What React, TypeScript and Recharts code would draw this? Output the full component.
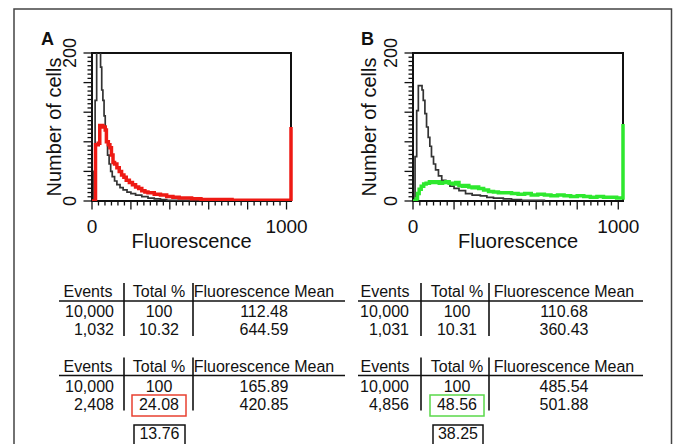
import React from "react";
import { LineChart, Line, XAxis, YAxis, ReferenceArea } from "recharts";

// Histograms: channel (0-1023) where a step starts, and cell count from there on
const controlAChannels = [0, 10, 16, 24, 44, 50, 56, 62, 68, 74, 80, 88, 96, 104, 116, 128, 144, 160, 180, 200, 224, 256, 288, 320, 352, 384, 448, 512, 640];
const controlACounts = [0, 40, 136, 230, 181, 150, 136, 115, 96, 80, 62, 50, 40, 33, 27, 22, 18, 15, 12, 10, 8, 6, 4, 3, 2, 1, 1, 0, 0];
const stainedAChannels = [0, 18, 32, 40, 56, 68, 74, 84, 92, 100, 108, 116, 128, 140, 152, 164, 176, 192, 208, 224, 240, 256, 272, 288, 320, 352, 384, 416, 448, 480, 512, 560, 640, 720, 800, 880, 960, 1020, 1023];
const stainedACounts = [0, 76, 78, 102, 100, 96, 80, 76, 72, 62, 52, 50, 45, 40, 35, 32, 28, 25, 22, 19, 17, 14, 12, 11, 9, 8, 6, 5, 4, 4, 3, 2, 2, 1, 1, 1, 1, 1, 100];

const controlBChannels = [0, 10, 18, 26, 44, 50, 58, 66, 74, 82, 90, 100, 110, 124, 140, 160, 180, 200, 224, 256, 288, 328, 360, 392, 440, 480, 528, 640];
const controlBCounts = [0, 60, 122, 156, 150, 136, 118, 100, 86, 74, 60, 50, 42, 34, 28, 24, 20, 17, 14, 10, 8, 7, 5, 4, 3, 2, 1, 0];
const stainedBChannels = [0, 16, 22, 30, 40, 52, 64, 80, 96, 112, 128, 144, 160, 176, 192, 208, 224, 240, 256, 272, 288, 304, 320, 344, 368, 392, 416, 448, 480, 512, 544, 576, 608, 640, 672, 704, 736, 768, 800, 832, 864, 896, 928, 960, 992, 1020, 1023];
const stainedBCounts = [0, 3, 10, 16, 20, 23, 24, 26, 25, 26, 24, 25, 26, 24, 23, 25, 21, 20, 21, 19, 18, 19, 17, 15, 13, 12, 11, 11, 10, 9, 10, 8, 9, 8, 7, 8, 7, 6, 7, 6, 5, 6, 5, 5, 4, 4, 104];

const xTitle = "Fluorescence";
const yTitle = "Number of cells";
const xTickLabels = [0, 1000];
const yTickLabels = [0, 200];
// minor ticks: 6 per 200 channels on x, 7 per 40 cells on y
const xTicks = Array.from({ length: 31 }, (_, i) => (i * 200) / 6);
const yTicks = Array.from({ length: 36 }, (_, i) => (i * 40) / 7);

const tableHeader = ["Events", "Total %", "Fluorescence Mean"];
const tableA1 = [["10,000", "100", "112.48"], ["1,032", "10.32", "644.59"]];
const tableA2 = [["10,000", "100", "165.89"], ["2,408", "24.08", "420.85"]];
const tableB1 = [["10,000", "100", "110.68"], ["1,031", "10.31", "360.43"]];
const tableB2 = [["10,000", "100", "485.54"], ["4,856", "48.56", "501.88"]];
const differenceA = "13.76";
const differenceB = "38.25";

const FONT = "'Liberation Sans', Arial, sans-serif";
const X_MAX = 1023;
const Y_MAX = 200;
const CHART_TOP = 20;
const MARGIN_TOP = 33;
const PLOT_H = 148;
const X_AXIS_H = 50;

function toPoints(ch: number[], v: number[]) {
  return ch.map((c, i) => ({ ch: c, v: v[i] }));
}

const isMajor = (v: number, step: number) => Math.abs(v / step - Math.round(v / step)) < 1e-6;

const labelOnly = (list: number[]) => (v: number) => {
  const hit = list.find((l) => Math.abs(l - v) < 1e-6);
  return hit === undefined ? "" : String(hit);
};

interface HistProps {
  left: number;
  yAxisWidth: number;
  plotWidth: number;
  control: { ch: number; v: number }[];
  stained: { ch: number; v: number }[];
  color: string;
}

function Histogram({ left, yAxisWidth, plotWidth, control, stained, color }: HistProps) {
  return (
    <div style={{ position: "absolute", left, top: CHART_TOP }}>
      <LineChart
        width={yAxisWidth + plotWidth + 20}
        height={MARGIN_TOP + PLOT_H + X_AXIS_H + 10}
        margin={{ top: MARGIN_TOP, right: 20, bottom: 10, left: 0 }}
      >
        <XAxis
          type="number"
          dataKey="ch"
          domain={[0, X_MAX]}
          ticks={xTicks}
          interval={0}
          axisLine={false}
          tickLine={false}
          tickSize={5}
          tickMargin={14}
          tickFormatter={labelOnly(xTickLabels)}
          tick={{ fontSize: 19, fill: "#111", fontFamily: FONT }}
          height={X_AXIS_H}
        />
        <YAxis
          type="number"
          dataKey="v"
          domain={[0, Y_MAX]}
          allowDataOverflow
          ticks={yTicks}
          interval={0}
          axisLine={false}
          tickLine={false}
          tickSize={5}
          tickMargin={17}
          tickFormatter={labelOnly(yTickLabels)}
          tick={{ fontSize: 18, fill: "#111", fontFamily: FONT, angle: -90, textAnchor: "middle" }}
          width={yAxisWidth}
        />
        <ReferenceArea x1={0} x2={X_MAX} y1={0} y2={Y_MAX} fill="none" stroke="#111" strokeWidth={2} ifOverflow="visible" />
        <Line
          data={control}
          dataKey="v"
          type="stepAfter"
          stroke="#333"
          strokeWidth={1.7}
          dot={false}
          isAnimationActive={false}
        />
        <Line
          data={stained}
          dataKey="v"
          type="stepAfter"
          stroke={color}
          strokeWidth={3.5}
          dot={false}
          isAnimationActive={false}
        />
      </LineChart>
    </div>
  );
}

// tick combs along the frame, placed from the same plot geometry the charts use
function TickMarks({ plotLeft, plotWidth }: { plotLeft: number; plotWidth: number }) {
  const top = CHART_TOP + MARGIN_TOP;
  const bottom = top + PLOT_H;
  return (
    <g stroke="#111" strokeWidth={1.3}>
      {xTicks.map((t) => {
        const px = plotLeft + (t / X_MAX) * plotWidth;
        return <line key={`x${t}`} x1={px} x2={px} y1={bottom} y2={bottom + (isMajor(t, 200) ? 8.5 : 4.5)} />;
      })}
      {yTicks.map((t) => {
        const py = bottom - (t / Y_MAX) * PLOT_H;
        return <line key={`y${t}`} x1={plotLeft} x2={plotLeft - (isMajor(t, 40) ? 8.5 : 4.5)} y1={py} y2={py} />;
      })}
    </g>
  );
}

interface TableGeom {
  eventsHeader: number;
  eventsRight: number;
  pct: number;
  mean: number;
  sep1: number;
  sep2: number;
  ruleX1: number;
  ruleX2: number;
}

function StatsTable({ g, rows, top, box }: { g: TableGeom; rows: string[][]; top: number; box?: string }) {
  // top = header baseline
  const txt = { fontSize: 16, fontFamily: FONT, fill: "#111" };
  return (
    <g>
      <text x={g.eventsHeader} y={top} textAnchor="middle" {...txt}>{tableHeader[0]}</text>
      <text x={g.pct} y={top} textAnchor="middle" {...txt}>{tableHeader[1]}</text>
      <text x={g.mean} y={top} textAnchor="middle" {...txt}>{tableHeader[2]}</text>
      <line x1={g.ruleX1} x2={g.ruleX2} y1={top + 4} y2={top + 4} stroke="#111" strokeWidth={1.6} />
      <line x1={g.sep1} x2={g.sep1} y1={top - 14} y2={top + 39} stroke="#111" strokeWidth={1.6} />
      <line x1={g.sep2} x2={g.sep2} y1={top - 14} y2={top + 39} stroke="#111" strokeWidth={1.6} />
      {rows.map((r, i) => (
        <g key={i}>
          <text x={g.eventsRight} y={top + 20 + i * 18} textAnchor="end" {...txt}>{r[0]}</text>
          <text x={g.pct} y={top + 20 + i * 18} textAnchor="middle" {...txt}>{r[1]}</text>
          <text x={g.mean} y={top + 20 + i * 18} textAnchor="middle" {...txt}>{r[2]}</text>
        </g>
      ))}
      {box && <rect x={g.pct - 27} y={top + 23.5} width={54} height={21} fill="none" stroke={box} strokeWidth={1.5} />}
    </g>
  );
}

const geomA: TableGeom = { eventsHeader: 88, eventsRight: 114, pct: 159, mean: 264, sep1: 124, sep2: 193, ruleX1: 59, ruleX2: 345 };
const geomB: TableGeom = { eventsHeader: 385, eventsRight: 409, pct: 457, mean: 564, sep1: 421, sep2: 489, ruleX1: 358, ruleX2: 643 };

function AxisTitles({ cx, cy, xc }: { cx: number; cy: number; xc: number }) {
  return (
    <g fontFamily={FONT} fontSize={20} fill="#111">
      <text x={xc} y={248} textAnchor="middle">{xTitle}</text>
      <text x={cx} y={cy} transform={`rotate(-90, ${cx}, ${cy})`} textAnchor="middle" dominantBaseline="central">
        {yTitle}
      </text>
    </g>
  );
}

export default function App() {
  return (
    <div style={{ position: "absolute", left: 0, top: 0, width: 673, height: 444, background: "#fff" }}>
      <svg width={673} height={444} style={{ position: "absolute", left: 0, top: 0 }}>
        <rect x={14} y={9} width={657.5} height={480} fill="none" stroke="#444" strokeWidth={1.5} />
        <text x={41} y={45} fontSize={18} fontWeight="bold" fontFamily={FONT} fill="#111">A</text>
        <text x={361} y={45} fontSize={18} fontWeight="bold" fontFamily={FONT} fill="#111">B</text>
        <AxisTitles cx={54} cy={127} xc={191.5} />
        <AxisTitles cx={369} cy={127} xc={518} />

        <StatsTable g={geomA} rows={tableA1} top={297} />
        <StatsTable g={geomA} rows={tableA2} top={371.5} box="#e84030" />
        <rect x={134} y={425} width={51} height={30} fill="none" stroke="#111" strokeWidth={1.5} />
        <text x={159.5} y={438.5} textAnchor="middle" fontSize={16} fontFamily={FONT} fill="#111">{differenceA}</text>

        <StatsTable g={geomB} rows={tableB1} top={297} />
        <StatsTable g={geomB} rows={tableB2} top={371.5} box="#5ad84a" />
        <rect x={433} y={425} width={50} height={30} fill="none" stroke="#111" strokeWidth={1.5} />
        <text x={458} y={438.5} textAnchor="middle" fontSize={16} fontFamily={FONT} fill="#111">{differenceB}</text>
      </svg>
      <Histogram
        left={16}
        yAxisWidth={76}
        plotWidth={199}
        control={toPoints(controlAChannels, controlACounts)}
        stained={toPoints(stainedAChannels, stainedACounts)}
        color="#ee1a14"
      />
      <Histogram
        left={325}
        yAxisWidth={88}
        plotWidth={210}
        control={toPoints(controlBChannels, controlBCounts)}
        stained={toPoints(stainedBChannels, stainedBCounts)}
        color="#2ee82e"
      />
      <svg width={673} height={444} style={{ position: "absolute", left: 0, top: 0, pointerEvents: "none" }}>
        <TickMarks plotLeft={92} plotWidth={199} />
        <TickMarks plotLeft={413} plotWidth={210} />
      </svg>
    </div>
  );
}
